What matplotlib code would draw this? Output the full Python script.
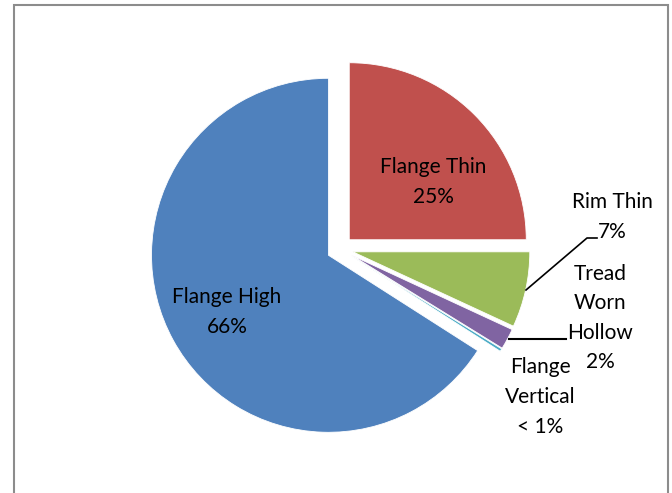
import matplotlib
matplotlib.use('Agg')
import matplotlib.pyplot as plt
from matplotlib.patches import Rectangle

plt.rcParams['font.family'] = ['Lato', 'DejaVu Sans']

# defect shares (%) in drawing order, clockwise from 12 o'clock
defects = ['Flange Thin', 'Rim Thin', 'Tread\nWorn\nHollow', 'Flange\nVertical', 'Flange High']
shares = [25.0, 6.9, 1.9, 0.25, 65.95]
colors = ['#C0504D', '#9BBB59', '#8064A2', '#4BACC6', '#4F81BD']

W, H = 672, 493
CX, CY, R = 340, 249, 177   # pie centre and radius in pixels


def px(x, y):
    # pixel position (origin top-left) -> data units of the pie axes
    return (x - CX) / R, (CY - y) / R


def pct(v):
    return '< 1%' if v < 1 else '%d%%' % round(v)


fig = plt.figure(figsize=(W / 100, H / 100), dpi=100)
ax = fig.add_axes([0, 0, 1, 1])

ax.pie(shares, colors=colors, startangle=90, counterclock=False,
       explode=[0.074] * len(shares), radius=1,
       wedgeprops=dict(edgecolor='white', linewidth=0.6))

# pie() resets the limits, so fix them afterwards
ax.set_xlim(-CX / R, (W - CX) / R)
ax.set_ylim(-(H - CY) / R, CY / R)
ax.axis('off')

# labels, each with its share
label_pos = {
    'Flange Thin': (433, 182),
    'Rim Thin': (612, 217),
    'Tread\nWorn\nHollow': (600, 318),
    'Flange\nVertical': (540, 397),
    'Flange High': (227, 312),
}
for name, v in zip(defects, shares):
    x, y = px(*label_pos[name])
    ax.text(x, y, name + '\n' + pct(v), ha='center', va='center',
            fontsize=15, linespacing=1.6, color='black')

# leader lines for the small slices
lx, ly = zip(px(526, 290), px(587, 238), px(597, 238))
ax.plot(lx, ly, color='black', lw=1.2)
lx, ly = zip(px(509, 339), px(566, 339))
ax.plot(lx, ly, color='black', lw=1.5)

# chart area border
fig.patches.append(Rectangle((14 / W, -0.1), (668 - 14) / W, (H - 5) / H + 0.1,
                             transform=fig.transFigure, fill=False,
                             edgecolor='#8c8c8c', lw=1.5))

fig.savefig('out.png', dpi=100)
